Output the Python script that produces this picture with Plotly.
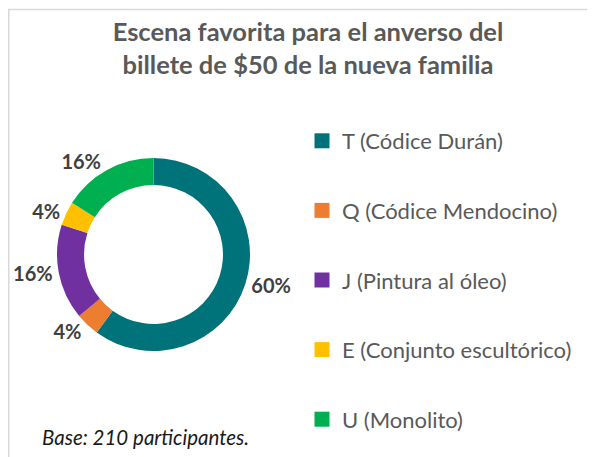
import plotly.graph_objects as go

categories = ["T (Códice Durán)", "Q (Códice Mendocino)", "J (Pintura al óleo)",
              "E (Conjunto escultórico)", "U (Monolito)"]
values = [60, 4, 16, 4, 16]
colors = ["#00727A", "#ED7D31", "#7030A0", "#FFC000", "#00B050"]
title_text = "Escena favorita para el anverso del<br>billete de $50 de la nueva familia"
note_text = "Base: 210 participantes."

W, H = 595, 457
FONT = "Lato"
OFF = 8  # page body margin


def fx(px):
    return (px - OFF) / W


def fy(py):
    return 1 - (py - OFF) / H


fig = go.Figure()

# donut (page coords)
cx, cy, R = 153.5, 254.5, 96.5
fig.add_trace(go.Pie(
    labels=categories, values=values, sort=False, direction="clockwise",
    rotation=0, hole=0.72,
    marker=dict(colors=colors, line=dict(width=0)),
    texttemplate="%{percent:.0%}", textposition="outside",
    textfont=dict(family=FONT, size=20, color="#404040", weight="bold"),
    domain=dict(x=[fx(cx - R), fx(cx + R)], y=[fy(cy + R), fy(cy - R)]),
    showlegend=False, hoverinfo="skip",
))

# legend entries
for i, (c, col) in enumerate(zip(categories, colors)):
    fig.add_trace(go.Scatter(
        x=[None], y=[None], mode="markers", name=c,
        marker=dict(symbol="square", size=15, color=col),
        legendgroup=f"g{i}", showlegend=True, hoverinfo="skip",
    ))

fig.update_layout(
    width=W, height=H, autosize=False,
    margin=dict(l=0, r=0, t=0, b=0),
    paper_bgcolor="white", plot_bgcolor="white",
    xaxis=dict(visible=False), yaxis=dict(visible=False),
    title=dict(text=title_text, x=fx(308), xanchor="center", y=fy(41), yanchor="middle",
               font=dict(family=FONT, size=25.5, color="#595959", weight="bold")),
    legend=dict(x=fx(302), xanchor="left", y=fy(120), yanchor="top",
                font=dict(family=FONT, size=22, color="#595959"),
                tracegroupgap=38, bgcolor="rgba(0,0,0,0)", itemclick=False),
    annotations=[dict(text=note_text, x=fx(40), y=fy(437), xref="paper", yref="paper",
                      xanchor="left", yanchor="middle", showarrow=False,
                      font=dict(family=FONT, size=20.5, color="#1a1a1a", style="italic"))],
    shapes=[
        dict(type="rect", xref="paper", yref="paper",
             x0=0.75 / W, x1=1 - 0.75 / W, y0=0.75 / H, y1=1 - 1.5 / H,
             line=dict(color="#d9d9d9", width=1.5)),
    ],
)

fig.write_html("out.html")
